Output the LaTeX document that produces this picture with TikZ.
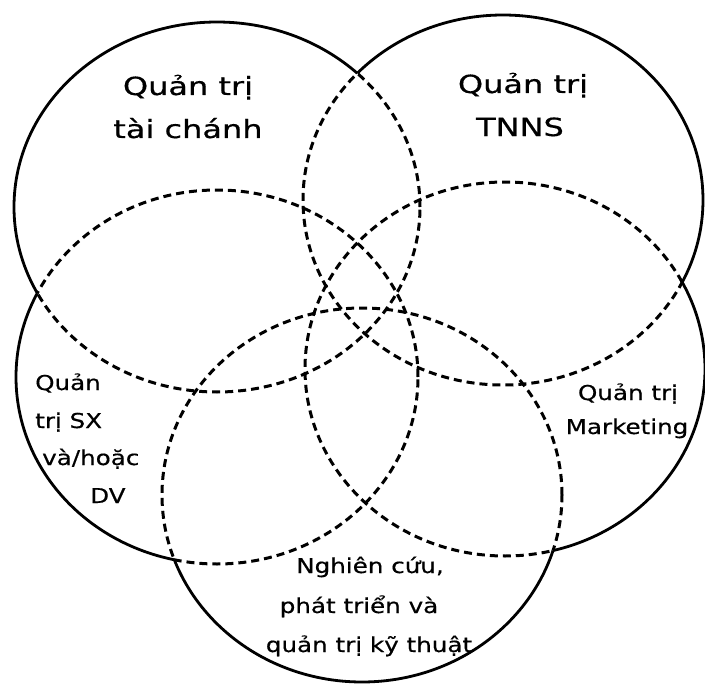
\documentclass[tikz,border=0pt]{standalone}
\usepackage{fontspec}
\setmainfont[FakeBold=0.5]{DejaVu Sans}
\newcommand\VA{(217,207) ellipse [x radius=203pt, y radius=185pt]}
\newcommand\VB{(503,200) ellipse [x radius=200pt, y radius=185pt]}
\newcommand\VC{(217,377) ellipse [x radius=201pt, y radius=187pt]}
\newcommand\VD{(505,369) ellipse [x radius=200pt, y radius=187pt]}
\newcommand\VE{(362,495) ellipse [x radius=200pt, y radius=187pt]}
\newcommand\SolidPart[5]{%
  \begin{scope}[even odd rule]\clip (-20,-20) rectangle (725,705) #2;
  \begin{scope}[even odd rule]\clip (-20,-20) rectangle (725,705) #3;
  \begin{scope}[even odd rule]\clip (-20,-20) rectangle (725,705) #4;
  \begin{scope}[even odd rule]\clip (-20,-20) rectangle (725,705) #5;
    \draw[solidring] #1;
  \end{scope}\end{scope}\end{scope}\end{scope}}
\newcommand\DashPart[5]{%
  \begin{scope}
    \clip #2 #3 #4 #5;
    \draw[dashring] #1;
  \end{scope}}
\newcommand\BigT[1]{\scalebox{1.28}[1]{#1}}
\newcommand\SmallT[1]{\scalebox{1.2}[1]{#1}}
\begin{document}
\begin{tikzpicture}[x=1pt,y=-1pt,
  solidring/.style={line width=2.8pt, black},
  dashring/.style={line width=3pt, black, dash pattern=on 8pt off 5pt},
  biglabel/.style={font=\fontsize{25}{30}\selectfont, inner sep=0pt},
  smalllabel/.style={font=\fontsize{20.5}{24}\selectfont, inner sep=0pt}]
\useasboundingbox (0,0) rectangle (705,685);
\fill[white] (0,0) rectangle (705,685);
% dashed inner parts
\DashPart{\VA}{\VB}{\VC}{\VD}{\VE}
\DashPart{\VB}{\VA}{\VC}{\VD}{\VE}
\DashPart{\VC}{\VA}{\VB}{\VD}{\VE}
\DashPart{\VD}{\VA}{\VB}{\VC}{\VE}
\DashPart{\VE}{\VA}{\VB}{\VC}{\VD}
% solid outer boundary
\SolidPart{\VA}{\VB}{\VC}{\VD}{\VE}
\SolidPart{\VB}{\VA}{\VC}{\VD}{\VE}
\SolidPart{\VC}{\VA}{\VB}{\VD}{\VE}
\SolidPart{\VD}{\VA}{\VB}{\VC}{\VE}
\SolidPart{\VE}{\VA}{\VB}{\VC}{\VD}
% labels
\node[biglabel, anchor=base] (a1) at (188,95) {\BigT{Quản trị}};
\node[biglabel, anchor=base] (a2) at (188,138) {\BigT{tài chánh}};
\node[biglabel, anchor=base] (b1) at (523,93) {\BigT{Quản trị}};
\node[biglabel, anchor=base] (b2) at (520,136) {\BigT{TNNS}};
\node[smalllabel, anchor=base west] (c1) at (35,390) {\SmallT{Quản}};
\node[smalllabel, anchor=base west] (c2) at (35,428) {\SmallT{trị SX}};
\node[smalllabel, anchor=base west] (c3) at (42,465) {\SmallT{và/hoặc}};
\node[smalllabel, anchor=base west] (c4) at (90,503) {\SmallT{DV}};
\node[smalllabel, anchor=base] (d1) at (628,400) {\SmallT{Quản trị}};
\node[smalllabel, anchor=base] (d2) at (627,434) {\SmallT{Marketing}};
\node[smalllabel, anchor=base] (e1) at (370,573) {\SmallT{Nghiên cứu,}};
\node[smalllabel, anchor=base] (e2) at (359,613) {\SmallT{phát triển và}};
\node[smalllabel, anchor=base] (e3) at (369,652) {\SmallT{quản trị kỹ thuật}};
\end{tikzpicture}
\end{document}
